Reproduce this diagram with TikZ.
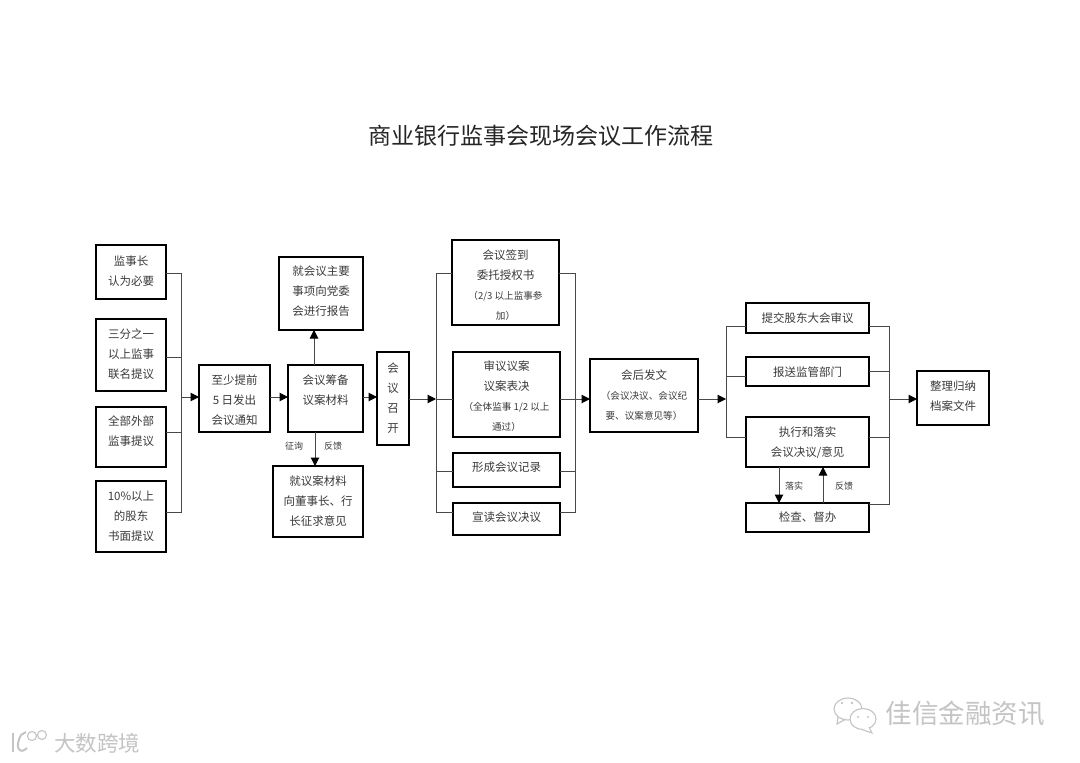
\documentclass[tikz,border=0pt]{standalone}
\usepackage{fontspec}
\setmainfont{Noto Sans CJK SC}
\usetikzlibrary{arrows.meta,calc}
\definecolor{txt}{HTML}{3A3A3A}
\definecolor{lnk}{HTML}{484848}
\definecolor{wm}{HTML}{C4C4C4}
\tikzset{
  boxn/.style={draw=black,line width=2.4pt,fill=white,inner sep=0pt,outer sep=0pt,text=txt},
  wire/.style={draw=lnk,line width=1pt},
  arrowwire/.style={wire,-{Triangle[length=8.5pt,width=8.5pt,black]},shorten >=0pt},
  lab/.style={text=txt,font=\fontsize{9}{9}\selectfont,inner sep=0pt},
  wmark/.style={text=wm,inner sep=0pt},
  wmline/.style={draw=wm,line width=1.1pt}
}
% box: name, x1,y1,x2,y2, upward text shift, lines
\newcommand{\bx}[7]{%
  \node[boxn,minimum width={#4pt-#2pt},minimum height={#5pt-#3pt}] (#1) at ({(#2+#4)/2},{(#3+#5)/2})
  {\raisebox{\dimexpr #6pt-2.5pt\relax}[0pt][0pt]{\fontsize{11.5}{20}\selectfont\begin{tabular}[c]{@{}c@{}}#7\end{tabular}}};%
}
\newcommand{\sm}[1]{{\fontsize{9.6}{10}\selectfont #1}}
\begin{document}
\begin{tikzpicture}[x=1pt,y=-1pt]
\useasboundingbox (0,0) rectangle (1080,763);
\fill[white] (0,0) rectangle (1080,763);
\node[inner sep=0pt,text=black!85,font=\fontsize{23}{23}\selectfont] (title) at (541,136) {商业银行监事会现场会议工作流程};

% bus coordinates
\coordinate (la) at (181,273); \coordinate (lb) at (181,357); \coordinate (lc) at (181,432); \coordinate (ld) at (181,512); \coordinate (lm) at (181,397);
\coordinate (ma) at (436,273); \coordinate (mb) at (436,399); \coordinate (mc) at (436,471); \coordinate (md) at (436,512);
\coordinate (na) at (575,273); \coordinate (nb) at (575,399); \coordinate (nc) at (575,471); \coordinate (nd) at (575,512);
\coordinate (pa) at (726,326); \coordinate (pb) at (726,376); \coordinate (pc) at (726,437); \coordinate (pm) at (726,399);
\coordinate (qa) at (889,326); \coordinate (qb) at (889,371); \coordinate (qc) at (889,437); \coordinate (qd) at (889,504); \coordinate (qm) at (889,399);

\bx{a1}{96}{245}{166}{299}{0}{监事长\\认为必要}
\bx{a2}{96}{319}{166}{391}{0}{三分之一\\以上监事\\联名提议}
\bx{a3}{96}{407}{166}{467}{5}{全部外部\\监事提议}
\bx{a4}{96}{481}{166}{552}{0}{10\%以上\\的股东\\书面提议}
\bx{b}{199}{365}{270}{432}{-2.5}{至少提前\\5 日发出\\会议通知}
\bx{c}{288}{365}{363}{432}{7.5}{会议筹备\\议案材料}
\bx{c1}{279}{257}{363}{330}{1.5}{就会议主要\\事项向党委\\会进行报告}
\bx{c2}{273}{466}{363}{537}{0}{就议案材料\\向董事长、行\\长征求意见}
\bx{d}{377}{352}{409}{445}{0}{会\\议\\召\\开}
\bx{e1}{452}{240}{559}{325}{-3.5}{会议签到\\委托授权书\\\sm{（2/3 以上监事参}\\\sm{加）}}
\bx{e2}{453}{352}{560}{437}{-2.5}{审议议案\\议案表决\\\sm{（全体监事 1/2 以上}\\\sm{通过）}}
\bx{e3}{453}{453}{560}{487}{2}{形成会议记录}
\bx{e4}{453}{503}{560}{535}{1}{宣读会议决议}
\bx{f}{590}{359}{698}{432}{0}{会后发文\\\sm{（会议决议、会议纪}\\\sm{要、议案意见等）}}
\bx{g1}{746}{303}{869}{333}{-1}{提交股东大会审议}
\bx{g2}{746}{357}{869}{386}{-1.5}{报送监管部门}
\bx{g3}{746}{417}{869}{467}{-1}{执行和落实\\会议决议/意见}
\bx{g4}{746}{503}{869}{532}{-0.5}{检查、督办}
\bx{h}{917}{371}{989}{425}{1}{整理归纳\\档案文件}

% left bus
\draw[wire] (a1.east |- la) -- (la) -- (ld) -- (a4.east |- ld);
\draw[wire] (a2.east |- lb) -- (lb);
\draw[wire] (a3.east |- lc) -- (lc);
\draw[arrowwire] (lm) -- (b.west |- lm);
\draw[arrowwire] (b.east |- lm) -- (c.west |- lm);
\draw[arrowwire] (c.east |- lm) -- (d.west |- lm);
\coordinate (cu) at (314,365);
\coordinate (cd) at (315,432);
\draw[arrowwire] (cu) -- (cu |- c1.south);
\draw[arrowwire] (cd) -- (cd |- c2.north);
\node[lab] (l1) at (294,446) {征询};
\node[lab] (l2) at (333,446) {反馈};

% middle buses
\draw[arrowwire] (d.east |- mb) -- (mb);
\draw[wire] (e1.west |- ma) -- (ma) -- (md) -- (e4.west |- md);
\draw[wire] (mb) -- (e2.west |- mb);
\draw[wire] (mc) -- (e3.west |- mc);
\draw[wire] (e1.east |- na) -- (na) -- (nd) -- (e4.east |- nd);
\draw[wire] (e2.east |- nb) -- (nb);
\draw[wire] (e3.east |- nc) -- (nc);
\draw[arrowwire] (nb) -- (f.west |- nb);

% right buses
\draw[arrowwire] (f.east |- pm) -- (pm);
\draw[wire] (g1.west |- pa) -- (pa) -- (pc) -- (g3.west |- pc);
\draw[wire] (pb) -- (g2.west |- pb);
\draw[wire] (g1.east |- qa) -- (qa) -- (qd) -- (g4.east |- qd);
\draw[wire] (g2.east |- qb) -- (qb);
\draw[wire] (g3.east |- qc) -- (qc);
\draw[arrowwire] (qm) -- (h.west |- qm);
\coordinate (gd) at (779,467);
\coordinate (gu) at (823,503);
\draw[arrowwire] (gd) -- (gd |- g4.north);
\draw[arrowwire] (gu) -- (gu |- g3.south);
\node[lab] (l3) at (794,486) {落实};
\node[lab] (l4) at (844,486) {反馈};

% watermarks
\node[wmark,font=\fontsize{26.5}{27}\selectfont] (w1) at (965,714) {佳信金融资讯};
\draw[wmline,fill=white] (848,709) ellipse (14 and 11);
\draw[wmline] (838,717) -- (837,724) -- (846,719);
\draw[wmline,fill=white] (863,719) ellipse (13 and 10.5);
\draw[wmline,fill=white] (869,727) -- (872,733) -- (862,729.5);
\fill[wm] (842,703) circle (1.3) (852,703) circle (1.3) (858,717) circle (1.2) (868,717) circle (1.2);
\node[wmark,font=\fontsize{21.5}{22}\selectfont] (w2) at (97,743) {大数跨境};
\draw[wmline,line width=2pt] (13,733) -- (13,752);
\draw[wmline,line width=2pt] (27,748) .. controls (20,755) and (14,748) .. (21,735) -- (26,732);
\draw[wmline] (32,736) circle (4.5) (42,735) circle (4.5);
\end{tikzpicture}
\end{document}
